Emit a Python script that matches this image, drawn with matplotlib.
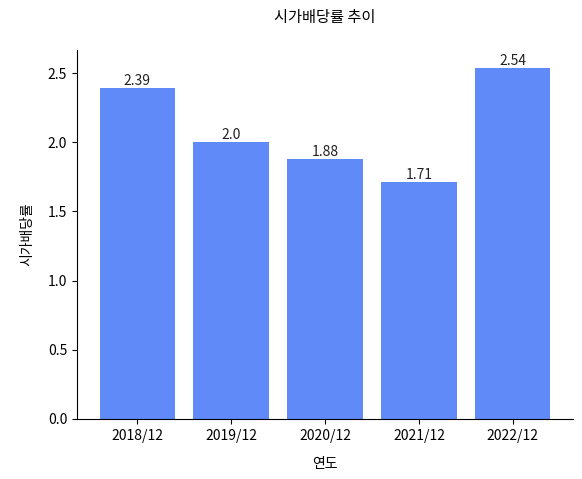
import matplotlib
matplotlib.use("Agg")
import matplotlib.pyplot as plt

plt.rcParams['font.family'] = ['Noto Sans CJK KR', 'DejaVu Sans']

years = ["2018/12", "2019/12", "2020/12", "2021/12", "2022/12"]
values = [2.39, 2.0, 1.88, 1.71, 2.54]
labels = ["2.39", "2.0", "1.88", "1.71", "2.54"]

fig = plt.figure(figsize=(5.82, 4.79), dpi=100)
ax = fig.add_axes([77/582, 1-419/479, 496/582, 369/479])
bars = ax.bar(years, values, color="#5f8af8", width=0.8)
for b, l in zip(bars, labels):
    ax.text(b.get_x()+b.get_width()/2, b.get_height(), l, ha="center", va="bottom", fontsize=10, color="#222222")
ax.set_ylim(0, 2.667)
ax.set_title("시가배당률 추이", pad=20, fontsize=11)
ax.set_xlabel("연도", labelpad=10)
ax.set_ylabel("시가배당률", labelpad=10)
ax.spines['top'].set_visible(False)
ax.spines['right'].set_visible(False)
fig.savefig("out.png", dpi=100)
